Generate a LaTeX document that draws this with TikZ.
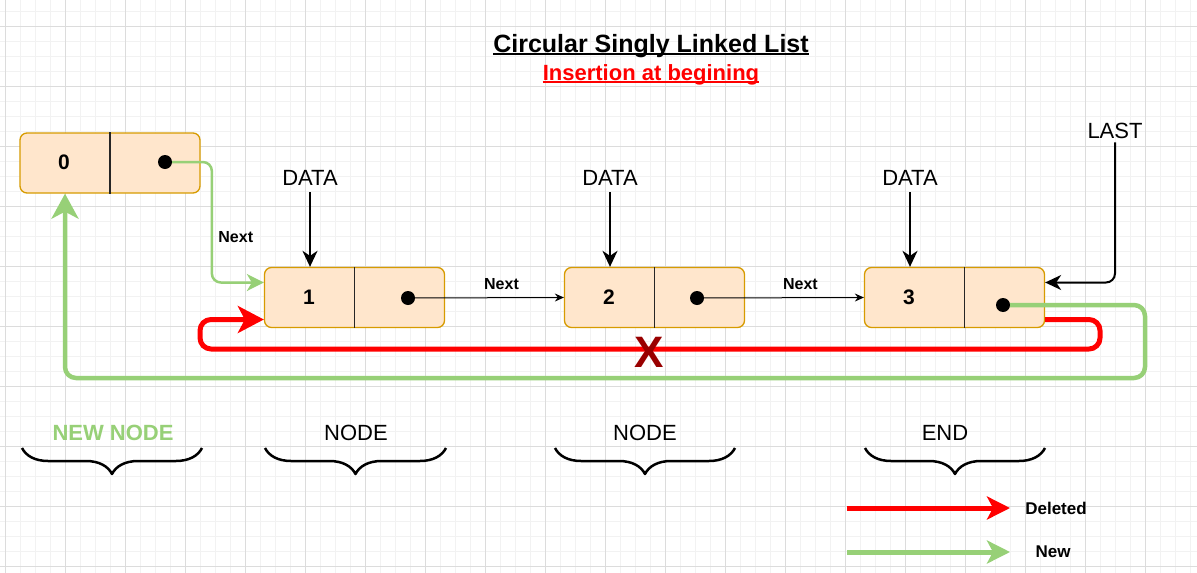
\documentclass[tikz,border=0pt]{standalone}
\usepackage{fontspec}
\setmainfont{Liberation Sans}
\usetikzlibrary{arrows.meta,decorations.pathreplacing}
\definecolor{cellfill}{HTML}{FFE6CC}
\definecolor{celledge}{HTML}{D79B00}
\definecolor{newgreen}{HTML}{97D077}
\definecolor{oldred}{HTML}{FF0000}
\definecolor{crossred}{HTML}{990000}
\definecolor{gridminor}{HTML}{F2F2F2}
\definecolor{gridmajor}{HTML}{DCDCDC}
\newcommand\fsz[1]{\fontsize{#1}{#1}\selectfont}

\begin{document}
\begin{tikzpicture}[x=1pt,y=-1pt,line join=round,
  cell/.style={draw=celledge,fill=cellfill,line width=1.3pt,rounded corners=7pt,
    minimum width=180pt,minimum height=60pt,inner sep=0pt},
  divider/.style={line width=1.3pt,black!85},
  num/.style={font=\bfseries\fsz{21}},
  ptr/.style={circle,fill=black,inner sep=0pt,minimum size=14pt},
  label/.style={font=\fsz{22}},
  small/.style={font=\bfseries\fsz{16},text=black},
  datalink/.style={line width=2pt,-{Stealth[length=16pt,width=15pt,inset=5pt]}},
  nextlink/.style={line width=1pt,-{Stealth[length=9pt,width=8pt,inset=3pt]}},
  newlink/.style={newgreen,line width=2.5pt,rounded corners=9pt,
    -{Stealth[length=17pt,width=17pt,inset=5pt]}},
  newloop/.style={newgreen,line width=4.5pt,rounded corners=11pt,
    -{Stealth[length=25pt,width=27pt,inset=7pt]}},
  oldloop/.style={oldred,line width=5pt,rounded corners=11pt,
    -{Stealth[length=26pt,width=27pt,inset=7pt]}},
  brace/.style={decorate,decoration={brace,mirror,amplitude=26pt},line width=2.5pt}]

  \useasboundingbox (0,0) rectangle (1197,573);
  \fill[white] (0,0) rectangle (1197,573);
  \foreach \x in {5,20,...,1197} \draw[gridminor,line width=1pt] (\x,0) -- (\x,573);
  \foreach \y in {11,26,...,573} \draw[gridminor,line width=1pt] (0,\y) -- (1197,\y);
  \foreach \x in {5,65,...,1197} \draw[gridmajor,line width=1pt] (\x,0) -- (\x,573);
  \foreach \y in {26,86,...,573} \draw[gridmajor,line width=1pt] (0,\y) -- (1197,\y);

  \node[font=\bfseries\fsz{25},inner sep=0pt,anchor=base] (title) at (651,52)
    {Circular Singly Linked List};
  \draw[line width=2pt] ([yshift=-2pt]title.base west) -- ([yshift=-2pt]title.base east);
  \node[font=\bfseries\fsz{22},text=oldred,inner sep=0pt,anchor=base] (subtitle) at (651,80)
    {Insertion at begining};
  \draw[oldred,line width=1.8pt] ([yshift=-2pt]subtitle.base west) -- ([yshift=-2pt]subtitle.base east);

  \node[cell] (n0) at (110,163) {};
  \node[cell] (n1) at (354.5,297.5) {};
  \node[cell] (n2) at (654.5,297.5) {};
  \node[cell] (n3) at (954.5,297.5) {};
  \draw[divider] (n0.north) -- (n0.south);
  \draw[divider] (n1.north) -- (n1.south);
  \draw[divider] (n2.north) -- (n2.south);
  \draw[divider] ([xshift=10pt]n3.north) -- ([xshift=10pt]n3.south);

  \node[num] (v0) at (64,162) {0};
  \node[num] (v1) at (309,297) {1};
  \node[num] (v2) at (609,297) {2};
  \node[num] (v3) at (909,297) {3};
  \node[ptr] (p0) at (165,162) {};
  \node[ptr] (p1) at (408,298) {};
  \node[ptr] (p2) at (697,298) {};
  \node[ptr] (p3) at (1003,305) {};

  \node[label] (d1) at (310,178) {DATA};
  \node[label] (d2) at (610,178) {DATA};
  \node[label] (d3) at (910,178) {DATA};
  \node[label] (last) at (1115,131) {LAST};
  \draw[datalink,shorten <=3pt] (d1.south) -- (d1.south |- n1.north);
  \draw[datalink,shorten <=3pt] (d2.south) -- (d2.south |- n2.north);
  \draw[datalink,shorten <=3pt] (d3.south) -- (d3.south |- n3.north);
  \draw[datalink,rounded corners=9pt] (last.south) |- ([yshift=15pt]n3.east);

  \draw[nextlink] (p1.center) -- (n2.west) node[small,pos=.6,above=4pt] {Next};
  \draw[nextlink] (p2.center) -- (n3.west) node[small,pos=.62,above=4pt] {Next};
  \draw[newlink] (p0.east) -| ([xshift=-52pt,yshift=15pt]n1.west)
    node[small,pos=.81,right=2pt] {Next} -- ([yshift=15pt]n1.west);

  \coordinate (rr) at (1100,349);
  \coordinate (rl) at (200,349);
  \draw[oldloop] ([yshift=-22pt]n3.east) -| (rr) -- (rl) |- ([yshift=-22pt]n1.west);
  \coordinate (gr) at (1145,378);
  \coordinate (gl) at (65,378);
  \draw[newloop] (p3.east) -| (gr) -- (gl) -- (gl |- n0.south);
  \node[font=\bfseries\fsz{44},text=crossred,inner sep=0pt] (cross) at (649,352) {X};

  \node[label,font=\bfseries\fsz{22},text=newgreen] (newnode) at (113,433) {NEW NODE};
  \node[label] (node1) at (356,433) {NODE};
  \node[label] (node2) at (645,433) {NODE};
  \node[label] (endnode) at (945,433) {END};
  \draw[brace] (22,448) -- (202,448);
  \draw[brace] (265,448) -- (446,448);
  \draw[brace] (555,448) -- (735,448);
  \draw[brace] (865,448) -- (1045,448);

  \coordinate (dl) at (847,508);
  \coordinate (dr) at (1010,508);
  \coordinate (nl) at (847,552);
  \coordinate (nr) at (1010,552);
  \draw[oldred,line width=5pt,-{Stealth[length=23pt,width=23pt,inset=6pt]}] (dl) -- (dr);
  \draw[newgreen,line width=5pt,-{Stealth[length=23pt,width=23pt,inset=6pt]}] (nl) -- (nr);
  \node[font=\bfseries\fsz{17}] (deleted) at (1056,508) {Deleted};
  \node[font=\bfseries\fsz{17}] (new) at (1053,552) {New};
\end{tikzpicture}
\end{document}
